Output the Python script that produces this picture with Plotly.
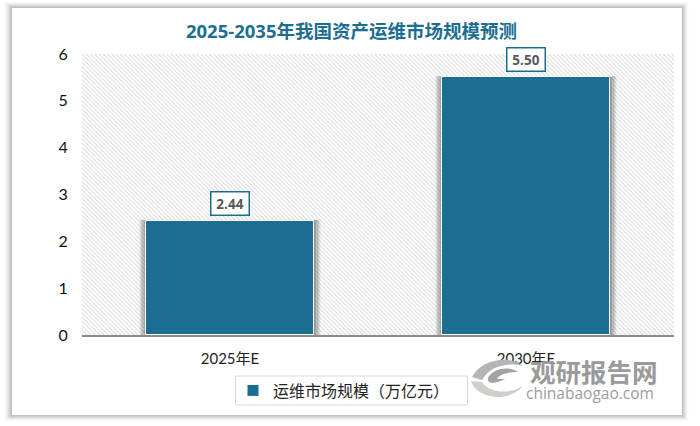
import plotly.graph_objects as go

categories = ["2025年E", "2030年E"]
values = [2.44, 5.50]
value_labels = ["2.44", "5.50"]
series_name = "运维市场规模（万亿元）"
title_text = "2025-2035年我国资产运维市场规模预测"
y_ticks = [0, 1, 2, 3, 4, 5, 6]
y_top = 6

BLUE = "#1c6d92"
W, H = 700, 426
L, R, T, B = 82, 26, 54, 91
PW, PH = W - L - R, H - T - B
BAR_W = 0.568
xpos = list(range(len(categories)))


def px(x):
    return (x - L) / PW


def py(y):
    return (H - B - y) / PH


def path(segments):
    out = []
    for cmd, *pts in segments:
        coords = []
        for a, b in pts:
            coords.append(f"{px(a):.5f},{py(b):.5f}")
        out.append(cmd + " " + " ".join(coords))
    return " ".join(out) + " Z"


fig = go.Figure()
fig.add_bar(
    x=[0.5], y=[y_top], width=[2], showlegend=False, hoverinfo="skip",
    marker=dict(color="#ffffff", line_width=0,
                pattern=dict(shape="\\", size=3, solidity=0.3,
                             fgcolor="#aaaaaa", bgcolor="#ffffff")),
)
# soft shadow behind each bar
dx = 1.2 / (PW / 2)
for k, op in zip(range(6, 0, -1), [0.06, 0.09, 0.12, 0.15, 0.18, 0.22]):
    fig.add_bar(
        x=xpos, y=[v + k * 0.005 for v in values],
        width=[BAR_W + 2 * k * dx] * len(values),
        showlegend=False, hoverinfo="skip",
        marker=dict(color=f"rgba(80,80,80,{op})", line_width=0),
    )
fig.add_bar(
    x=xpos, y=values, width=[BAR_W] * len(values), name=series_name,
    marker=dict(color=BLUE, line=dict(color="#ffffff", width=1)),
)

shapes = []
# card shadow and card
for k, op in zip(range(8, 0, -1), [0.02, 0.03, 0.05, 0.06, 0.08, 0.10, 0.12, 0.15]):
    shapes.append(dict(type="rect", xref="paper", yref="paper", layer="below",
                       x0=px(12 - k), x1=px(682 + k * 0.8), y0=py(415 + k * 0.8), y1=py(8 - k * 0.8),
                       fillcolor=f"rgba(120,120,120,{op})", line_width=0))
shapes.append(dict(type="rect", xref="paper", yref="paper", layer="below",
                   x0=px(12), x1=px(682), y0=py(415), y1=py(8),
                   fillcolor="#ffffff", line_width=0))
# legend frame
shapes.append(dict(type="rect", xref="paper", yref="paper",
                   x0=px(235.5), x1=px(467.5), y0=py(405), y1=py(376),
                   fillcolor="rgba(0,0,0,0)", line=dict(color="#d9d9d9", width=1)))
# watermark swirl
logo = [
    ([("M", (472, 377)), ("C", (480, 360), (510, 354), (523, 366)),
      ("C", (508, 362), (490, 366), (482, 380))], "#b2b6b8"),
    ([("M", (471, 381)), ("C", (476, 398), (508, 404), (523, 386)),
      ("C", (510, 394), (490, 394), (482, 382))], "#cfcec8"),
    ([("M", (488, 378)), ("C", (493, 368), (510, 366), (518, 372)),
      ("C", (508, 372), (500, 374), (497, 379)), ("L", (505, 379), (505, 388), (497, 388)),
      ("C", (491, 386), (487, 382), (488, 378))], "#a0a4a6"),
]
for segs, col in logo:
    shapes.append(dict(type="path", xref="paper", yref="paper", layer="above",
                       path=path(segs), fillcolor=col, line_width=0))

annotations = []
for i, lab, v in zip(xpos, value_labels, values):
    annotations.append(dict(
        x=i, y=v, xref="x", yref="y", text=f"<b>{lab}</b>", showarrow=False,
        yshift=17.5, font=dict(family="Open Sans, Noto Sans CJK SC", size=13.5, color="#595959"),
        bgcolor="#ffffff", bordercolor=BLUE, borderwidth=1.5, borderpad=2,
        width=33, height=18,
    ))
annotations.append(dict(
    x=px(593.5), y=py(370), xref="paper", yref="paper", text="<b>观研报告网</b>", showarrow=False,
    font=dict(family="Noto Sans CJK SC", size=25.5, color="#9a9a9a"), xanchor="center", yanchor="middle",
))
annotations.append(dict(
    x=px(590), y=py(393), xref="paper", yref="paper", text="chinabaogao.com", showarrow=False,
    font=dict(family="Open Sans", size=15.5, color="#9c9c9c"), xanchor="center", yanchor="middle",
))

fig.update_layout(
    width=W, height=H, autosize=False,
    margin=dict(l=L, r=R, t=T, b=B, pad=0),
    paper_bgcolor="#ffffff", plot_bgcolor="rgba(0,0,0,0)",
    barmode="overlay", bargap=0,
    title=dict(text=f"<b>{title_text}</b>", x=351.5 / W, xanchor="center", y=1 - 32 / H, yanchor="middle",
               font=dict(family="Open Sans, Noto Sans CJK SC", size=18.5, color=BLUE)),
    font=dict(family="Lato, Noto Sans CJK SC", size=14, color="#111111"),
    xaxis=dict(range=[-0.5, 1.5], tickmode="array", tickvals=xpos, ticktext=categories,
               showgrid=False, zeroline=False, showline=True, linecolor="#8c8c8c", linewidth=1.5,
               ticks="outside", ticklen=9, tickcolor="rgba(0,0,0,0)",
               tickfont=dict(family="Lato, Noto Sans CJK SC", size=15, color="#222222")),
    yaxis=dict(range=[0, y_top], tickmode="array", tickvals=y_ticks,
               showgrid=False, zeroline=False, showline=False,
               ticks="outside", ticklen=10, tickcolor="rgba(0,0,0,0)",
               tickfont=dict(family="Lato, Noto Sans CJK SC", size=16, color="#111111")),
    legend=dict(x=px(344), y=py(390.5), xanchor="center", yanchor="middle", orientation="h",
                bgcolor="rgba(0,0,0,0)", borderwidth=0,
                font=dict(family="Noto Sans CJK SC", size=16, color="#222222")),
    shapes=shapes, annotations=annotations,
)
fig.write_html("out.html", post_script="document.body.style.margin='0';",
               config={"displayModeBar": False})
